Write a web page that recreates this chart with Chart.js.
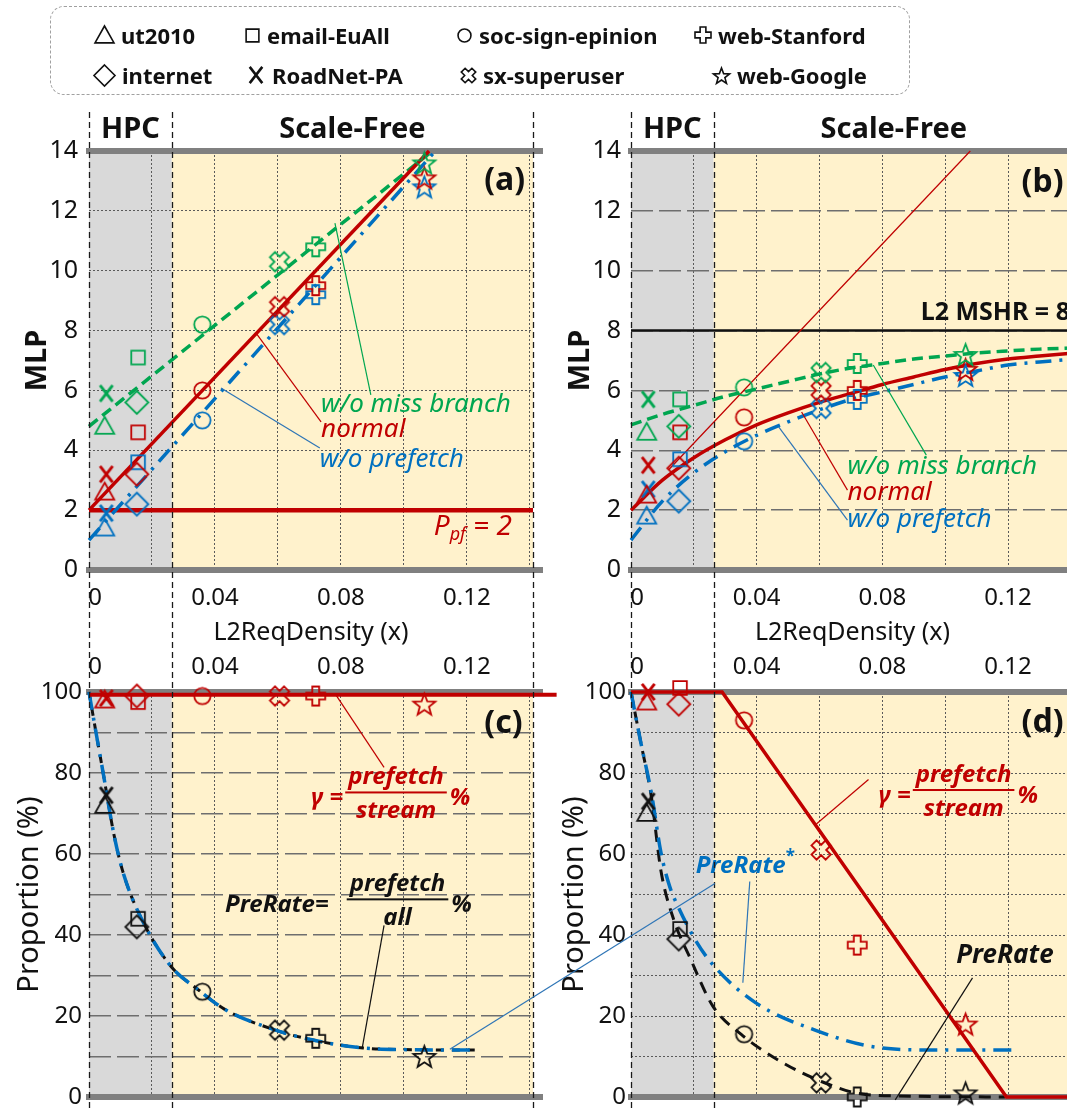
<!DOCTYPE html>
<html>
<head>
<meta charset="utf-8">
<title>MLP and prefetch proportion vs L2ReqDensity</title>
<script src="https://cdn.jsdelivr.net/npm/chart.js@4.4.1/dist/chart.umd.min.js"></script>
<style>
  html, body { margin: 0; padding: 0; background: #fff; }
  body { width: 1067px; height: 1108px; overflow: hidden; position: relative; font-family: "Noto Sans", "Liberation Sans", sans-serif; }
  canvas.panel { position: absolute; }
  #legend { position: absolute; left: 50px; top: 6px; width: 860px; height: 89px; box-sizing: border-box;
            border: 1.5px dashed #a0a0a0; border-radius: 14px; }
  .item { position: absolute; height: 30px; display: flex; align-items: center; font-weight: 700; font-size: 22px; color: #111; white-space: nowrap; }
  .item canvas { margin-right: 3px; }
  #overlay { position: absolute; left: 0; top: 0; pointer-events: none; }
</style>
</head>
<body>
<div id="legend"></div>
<canvas class="panel" id="chartA" width="545" height="553" style="left:0px;top:95px"></canvas>
<canvas class="panel" id="chartB" width="545" height="553" style="left:540px;top:95px"></canvas>
<canvas class="panel" id="chartC" width="575" height="468" style="left:0px;top:640px"></canvas>
<canvas class="panel" id="chartD" width="545" height="468" style="left:540px;top:640px"></canvas>
<canvas id="overlay" width="1067" height="1108"></canvas>
<script>
const FONT = '"Noto Sans", "Liberation Sans", sans-serif';
const GREEN = '#00a650', RED = '#c00000', BLUE = '#0070c0', BLACK = '#111111', LEAD_BLUE = '#2e75b6';
const HPC_FILL = '#d9d9d9', SF_FILL = '#fff2cc';

// benchmarks in legend order
const benchmarks = ['ut2010', 'email-EuAll', 'soc-sign-epinion', 'web-Stanford',
                    'internet', 'RoadNet-PA', 'sx-superuser', 'web-Google'];
const shapes = ['tri', 'sq', 'circ', 'plus', 'dia', 'x', 'sx', 'star'];
// L2ReqDensity of each benchmark
const density = [0.005, 0.0156, 0.036, 0.072, 0.0152, 0.0055, 0.0605, 0.1065];

const hpcEdge = 0.0263;   // HPC | Scale-Free boundary
const xMax = 0.141;

// (a) MLP, first configuration
const mlpNoBranchA   = [4.8, 7.1, 8.2, 10.8, 5.6, 5.9, 10.3, 13.6];
const mlpNormalA     = [2.6, 4.6, 6.0, 9.5, 3.2, 3.2, 8.8, 13.1];
const mlpNoPrefetchA = [1.4, 3.6, 5.0, 9.2, 2.2, 1.9, 8.2, 12.8];
// linear fits in (a)
const fitNoBranchX = [0, 0.109],   fitNoBranchY = [4.8, 14];
const fitNormalX = [0, 0.108],     fitNormalY = [2, 14];
const fitNoPrefetchX = [0, 0.11],  fitNoPrefetchY = [1, 14];
const ppfX = [0, xMax], ppfY = [2, 2];

// (b) MLP, second configuration
const mlpNoBranchB   = [4.6, 5.7, 6.1, 6.9, 4.8, 5.7, 6.6, 7.2];
const mlpNormalB     = [2.5, 4.6, 5.1, 6.0, 3.4, 3.5, 6.0, 6.7];
const mlpNoPrefetchB = [1.8, 3.7, 4.3, 5.7, 2.3, 2.7, 5.4, 6.5];
// saturating curves in (b)
const curveXB            = [0, 0.01, 0.02, 0.03, 0.04, 0.05, 0.06, 0.07, 0.08, 0.09, 0.1, 0.11, 0.12, 0.13, 0.141];
const curveNoBranchB     = [4.85, 5.2, 5.5, 5.8, 6.05, 6.3, 6.55, 6.75, 6.9, 7.05, 7.15, 7.25, 7.32, 7.38, 7.42];
const curveNormalB       = [2.0, 3.0, 3.75, 4.35, 4.85, 5.25, 5.6, 5.9, 6.2, 6.45, 6.7, 6.9, 7.05, 7.15, 7.25];
const curveNoPrefetchB   = [1.0, 2.3, 3.25, 3.95, 4.5, 4.95, 5.35, 5.7, 5.95, 6.2, 6.45, 6.65, 6.85, 6.95, 7.05];
const unboundedX = [0.012, 0.108], unboundedY = [3.35, 14];
const mshrX = [0, xMax], mshrY = [8, 8];

// (c) proportions (%), first configuration
const gammaC   = [98, 97.5, 99, 99, 99, 98.5, 99, 97];
const preRateC = [72, 44, 26, 14.5, 42, 74.5, 16.5, 10];
const gammaLineXC = [0, 0.1485], gammaLineYC = [99.3, 99.3];
const preRateCurveXC = [0, 0.002, 0.0045, 0.008, 0.011, 0.017, 0.026, 0.035, 0.043, 0.0585, 0.0715, 0.087, 0.1, 0.1225];
const preRateCurveYC = [100, 91, 80, 64.5, 55, 43.5, 32.3, 26.3, 21.7, 16.7, 14, 12.1, 11.7, 11.6];

// (d) proportions (%), second configuration
const gammaD   = [97.5, 101, 93, 37.5, 97, 100, 61, 18];
const preRateD = [70, 41.5, 15.5, 0, 39, 73, 3.5, 1];
const gammaLineXD = [0, 0.029, 0.1195, 0.141], gammaLineYD = [100, 100, 0, 0];
const preRateCurveXD = [0, 0.003, 0.0065, 0.0095, 0.0135, 0.019, 0.026, 0.035, 0.048, 0.061, 0.073, 0.089, 0.119];
const preRateCurveYD = [100, 88, 74, 56, 44, 34, 22.5, 15.5, 8.6, 3.7, 0.8, 0.2, 0];
const preRateStarXD = [0, 0.003, 0.0065, 0.0095, 0.0123, 0.015, 0.0203, 0.026, 0.0396, 0.059, 0.078, 0.0976, 0.1233];
const preRateStarYD = [100, 88, 75, 60.5, 52, 47, 39, 32.7, 23.3, 16.4, 12.3, 11.6, 11.6];

// hollow marker glyphs, drawn once per shape and colour
const markerSize = { tri: 19, sq: 16, circ: 19, plus: 19, dia: 23, x: 18, sx: 20, star: 23 };
function marker(shape, color, size, lw) {
  lw = lw || 1.8;
  const s = Math.ceil(size + 8);
  const c = document.createElement('canvas');
  c.width = s; c.height = s;
  const g = c.getContext('2d');
  const m = s / 2, r = size / 2;
  g.strokeStyle = color; g.lineWidth = lw; g.lineJoin = 'miter';
  g.beginPath();
  if (shape === 'tri') {
    g.moveTo(m, m - r); g.lineTo(m + r, m + r * 0.78); g.lineTo(m - r, m + r * 0.78); g.closePath();
  } else if (shape === 'sq') {
    g.rect(m - r * 0.85, m - r * 0.85, r * 1.7, r * 1.7);
  } else if (shape === 'circ') {
    g.arc(m, m, r * 0.86, 0, Math.PI * 2);
  } else if (shape === 'dia') {
    g.moveTo(m, m - r); g.lineTo(m + r, m); g.lineTo(m, m + r); g.lineTo(m - r, m); g.closePath();
  } else if (shape === 'x') {
    g.lineWidth = lw * 1.6;
    g.moveTo(m - r * 0.7, m - r * 0.9); g.lineTo(m + r * 0.7, m + r * 0.9);
    g.moveTo(m + r * 0.7, m - r * 0.9); g.lineTo(m - r * 0.7, m + r * 0.9);
  } else if (shape === 'plus' || shape === 'sx') {
    const a = r * 0.36;
    const pts = [[-a, -r], [a, -r], [a, -a], [r, -a], [r, a], [a, a], [a, r], [-a, r], [-a, a], [-r, a], [-r, -a], [-a, -a]];
    const rot = shape === 'sx' ? Math.PI / 4 : 0;
    pts.forEach(([px, py], i) => {
      const X = m + px * Math.cos(rot) - py * Math.sin(rot);
      const Y = m + px * Math.sin(rot) + py * Math.cos(rot);
      if (i) g.lineTo(X, Y); else g.moveTo(X, Y);
    });
    g.closePath();
  } else if (shape === 'star') {
    for (let i = 0; i < 10; i++) {
      const ang = -Math.PI / 2 + i * Math.PI / 5;
      const rr = i % 2 ? r * 0.42 : r;
      const X = m + rr * Math.cos(ang), Y = m + 1 + rr * Math.sin(ang);
      if (i) g.lineTo(X, Y); else g.moveTo(X, Y);
    }
    g.closePath();
  }
  g.stroke();
  return c;
}

function pts(xs, ys) { return xs.map((x, i) => ({ x, y: ys[i] })); }

function markerSet(ys, color) {
  return {
    data: pts(density, ys),
    pointStyle: shapes.map(s => marker(s, color, markerSize[s])),
    pointRadius: 10, showLine: false, clip: false, order: 0
  };
}

function lineSet(xs, ys, color, width, dash, order, smooth) {
  return {
    data: pts(xs, ys), showLine: true, borderColor: color, borderWidth: width,
    borderDash: dash || [], borderCapStyle: 'butt', pointRadius: 0, fill: false,
    tension: 0, cubicInterpolationMode: smooth ? 'monotone' : 'default', clip: false, order
  };
}

function densityLabel(v) {
  if (Math.abs(v) < 1e-9) return '\u20020';   // nudged right of the axis line
  const k = v / 0.04;
  return Math.abs(k - Math.round(k)) < 1e-6 ? v.toFixed(2) : '';
}

function densityAxis(position, withTitle) {
  return {
    type: 'linear', position, min: 0, max: xMax,
    ticks: { stepSize: 0.02, includeBounds: false, autoSkip: false, maxRotation: 0,
             padding: position === 'bottom' ? 14 : 10, color: '#111',
             font: { family: FONT, size: 24 }, callback: densityLabel },
    grid: { drawTicks: false, lineWidth: 1,
            color: c => (c.tick && c.tick.value > 1e-9) ? '#5a5a5a' : 'rgba(0,0,0,0)' },
    border: { display: false, dash: [2, 2] },
    title: { display: withTitle, text: 'L2ReqDensity (x)', color: '#111',
             font: { family: FONT, size: 25 }, padding: { top: 0, bottom: 0 } },
    afterFit: s => { s.height = position === 'bottom' ? 78 : 52; s.paddingLeft = 0; s.paddingRight = 0; }
  };
}

function valueAxis(o) {
  return {
    type: 'linear', position: 'left', min: 0, max: o.max,
    ticks: { stepSize: o.step, padding: o.tickPad, color: '#111',
             font: { family: FONT, size: o.tickSize },
             callback: v => (Math.round(v) % o.labelEvery === 0 ? String(Math.round(v)) : '') },
    grid: { drawTicks: false, lineWidth: o.gridWidth,
            color: c => (c.tick && c.tick.value > 0 && c.tick.value < o.max) ? o.gridColor : 'rgba(0,0,0,0)' },
    border: { display: false, dash: o.dash },
    title: { display: true, text: o.title, color: '#111', font: o.titleFont,
             padding: { top: o.titlePad, bottom: 0 } },
    afterFit: s => { s.width = o.width; s.paddingTop = 0; s.paddingBottom = 0; }
  };
}

// ---- annotation drawing helpers ----
function toPx(chart, p) { return [chart.scales.x.getPixelForValue(p[0]), chart.scales.y.getPixelForValue(p[1])]; }

function drawFrac(ctx, x, y, t) {
  const size = t.size;
  ctx.fillStyle = t.color;
  ctx.textBaseline = 'middle';
  ctx.font = `italic 700 ${size}px ${FONT}`;
  let cx = x;
  ctx.textAlign = 'left';
  ctx.fillText(t.lhs, cx, y + 6);
  cx += ctx.measureText(t.lhs).width + t.gap;
  const w = Math.max(ctx.measureText(t.num).width, ctx.measureText(t.den).width) + 6;
  ctx.fillRect(cx, y - 1, w, 2);
  ctx.textAlign = 'center';
  ctx.fillText(t.num, cx + w / 2, y - 15);
  ctx.fillText(t.den, cx + w / 2, y + 19);
  ctx.textAlign = 'left';
  ctx.fillText(t.tail, cx + w + 3, y + 6);
}

function drawText(chart, t) {
  const ctx = chart.ctx;
  const [x, y] = toPx(chart, t.at);
  ctx.save();
  ctx.fillStyle = t.color;
  ctx.textBaseline = 'middle';
  ctx.textAlign = t.align || 'left';
  if (t.kind === 'frac') {
    drawFrac(ctx, x, y, t);
  } else if (t.kind === 'sub') {
    ctx.font = `italic ${t.size}px ${FONT}`;
    ctx.fillText(t.main, x, y);
    let cx = x + ctx.measureText(t.main).width;
    ctx.font = `italic ${Math.round(t.size * 0.65)}px ${FONT}`;
    ctx.fillText(t.sub, cx, y + 8);
    cx += ctx.measureText(t.sub).width;
    ctx.font = `italic ${t.size}px ${FONT}`;
    ctx.fillText(t.rest, cx, y);
  } else if (t.kind === 'sup') {
    ctx.font = `italic 700 ${t.size}px ${FONT}`;
    ctx.fillText(t.main, x, y);
    const cx = x + ctx.measureText(t.main).width;
    ctx.font = `700 ${Math.round(t.size * 0.7)}px ${FONT}`;
    ctx.fillText(t.sup, cx, y - 9);
  } else {
    ctx.font = t.font;
    ctx.fillText(t.text, x, y);
  }
  ctx.restore();
}

const decoPlugin = {
  id: 'deco',
  beforeDraw(chart) {
    const { ctx, chartArea: a, scales: { x } } = chart;
    const xe = x.getPixelForValue(hpcEdge);
    ctx.save();
    ctx.fillStyle = HPC_FILL;
    ctx.fillRect(a.left, a.top, xe - a.left, a.bottom - a.top);
    ctx.fillStyle = SF_FILL;
    ctx.fillRect(xe, a.top, a.right - xe, a.bottom - a.top);
    ctx.restore();
  },
  beforeDatasetsDraw(chart) {
    // thick grey rules at the top and bottom of the value range
    const { ctx, chartArea: a, scales: { y } } = chart;
    ctx.save();
    ctx.fillStyle = '#808080';
    [y.min, y.max].forEach(v => {
      const py = y.getPixelForValue(v);
      ctx.fillRect(a.left - 3, py - 3, a.right - a.left + 13, 6);
    });
    ctx.restore();
  },
  afterDatasetsDraw(chart, args, o) {
    const { ctx, chartArea: a, scales: { x } } = chart;
    ctx.save();
    if (o.regions) {
      ctx.fillStyle = '#111';
      ctx.font = `700 29px ${FONT}`;
      ctx.textAlign = 'center';
      ctx.textBaseline = 'middle';
      ctx.fillText('HPC', x.getPixelForValue(hpcEdge / 2), a.top - 21);
      ctx.fillText('Scale-Free', x.getPixelForValue((hpcEdge + xMax) / 2), a.top - 21);
    }
    (o.leaders || []).forEach(l => {
      const [x1, y1] = toPx(chart, l.from), [x2, y2] = toPx(chart, l.to);
      ctx.strokeStyle = l.color; ctx.lineWidth = 1.2; ctx.setLineDash([]);
      ctx.beginPath(); ctx.moveTo(x1, y1); ctx.lineTo(x2, y2); ctx.stroke();
    });
    ctx.restore();
    (o.texts || []).forEach(t => drawText(chart, t));
    if (o.tag) drawText(chart, { text: o.tag.text, at: o.tag.at, color: '#111', font: `700 32px ${FONT}`, align: 'center' });
  }
};

function baseOptions(pad, scales, deco) {
  return {
    responsive: false, animation: false, events: [],
    layout: { padding: pad },
    plugins: { legend: { display: false }, tooltip: { enabled: false }, deco },
    scales
  };
}

const italic26 = `italic 26px ${FONT}`;

// ---- (a) ----
const chartA = new Chart(document.getElementById('chartA'), {
  type: 'scatter',
  data: { datasets: [
    markerSet(mlpNoBranchA, GREEN),
    markerSet(mlpNormalA, RED),
    markerSet(mlpNoPrefetchA, BLUE),
    lineSet(fitNormalX, fitNormalY, RED, 3.5, [], 1),
    lineSet(fitNoBranchX, fitNoBranchY, GREEN, 3.5, [11, 6], 1),
    lineSet(fitNoPrefetchX, fitNoPrefetchY, BLUE, 3.5, [16, 8, 3, 8], 1),
    lineSet(ppfX, ppfY, RED, 4.5, [], 2)
  ]},
  options: baseOptions({ left: 0, right: 12, top: 56, bottom: 0 }, {
    x: densityAxis('bottom', true),
    y: valueAxis({ max: 14, step: 2, labelEvery: 2, title: 'MLP', titleFont: { family: FONT, size: 29, weight: 'bold' },
                   titlePad: 20, tickPad: 11, tickSize: 25, dash: [2, 2], gridColor: '#5a5a5a', gridWidth: 1, width: 89 })
  }, {
    regions: true,
    tag: { text: '(a)', at: [0.132, 13.0] },
    leaders: [
      { from: [0.0781, 11.59], to: [0.0895, 5.85], color: GREEN },
      { from: [0.053, 7.92], to: [0.0737, 4.95], color: RED },
      { from: [0.0419, 6.08], to: [0.0733, 4.08], color: LEAD_BLUE }
    ],
    texts: [
      { text: 'w/o miss branch', at: [0.0737, 5.51], color: GREEN, font: italic26 },
      { text: 'normal', at: [0.0737, 4.68], color: RED, font: italic26 },
      { text: 'w/o prefetch', at: [0.0733, 3.68], color: BLUE, font: italic26 },
      { kind: 'sub', main: 'P', sub: 'pf', rest: ' = 2', at: [0.1095, 1.44], color: RED, size: 28 }
    ]
  }),
  plugins: [decoPlugin]
});

// ---- (b) ----
const chartB = new Chart(document.getElementById('chartB'), {
  type: 'scatter',
  data: { datasets: [
    markerSet(mlpNoBranchB, GREEN),
    markerSet(mlpNormalB, RED),
    markerSet(mlpNoPrefetchB, BLUE),
    lineSet(curveXB, curveNormalB, RED, 3.5, [], 1, true),
    lineSet(curveXB, curveNoBranchB, GREEN, 3.5, [11, 6], 1, true),
    lineSet(curveXB, curveNoPrefetchB, BLUE, 3.5, [16, 8, 3, 8], 1, true),
    lineSet(unboundedX, unboundedY, RED, 1.2, [], 2),
    lineSet(mshrX, mshrY, BLACK, 2.5, [], 2)
  ]},
  options: baseOptions({ left: 0, right: 10, top: 56, bottom: 0 }, {
    x: densityAxis('bottom', true),
    y: valueAxis({ max: 14, step: 2, labelEvery: 2, title: 'MLP', titleFont: { family: FONT, size: 29, weight: 'bold' },
                   titlePad: 23, tickPad: 10, tickSize: 25, dash: [22, 6], gridColor: '#6e6e6e', gridWidth: 1.5, width: 91 })
  }, {
    regions: true,
    tag: { text: '(b)', at: [0.131, 12.93] },
    leaders: [
      { from: [0.0771, 6.85], to: [0.094, 3.84], color: GREEN },
      { from: [0.0543, 5.28], to: [0.0689, 2.67], color: RED },
      { from: [0.047, 4.78], to: [0.0689, 1.67], color: LEAD_BLUE }
    ],
    texts: [
      { text: 'L2 MSHR = 8', at: [0.0922, 8.59], color: '#111', font: `700 25px ${FONT}` },
      { text: 'w/o miss branch', at: [0.0689, 3.47], color: GREEN, font: italic26 },
      { text: 'normal', at: [0.0689, 2.6], color: RED, font: italic26 },
      { text: 'w/o prefetch', at: [0.0689, 1.67], color: BLUE, font: italic26 }
    ]
  }),
  plugins: [decoPlugin]
});

// ---- (c) ----
const chartC = new Chart(document.getElementById('chartC'), {
  type: 'scatter',
  data: { datasets: [
    markerSet(gammaC, RED),
    markerSet(preRateC, BLACK),
    lineSet(gammaLineXC, gammaLineYC, RED, 4, [], 1),
    lineSet(preRateCurveXC, preRateCurveYC, BLUE, 3.5, [18, 8, 3, 8], 1, true),
    lineSet(preRateCurveXC, preRateCurveYC, BLACK, 3, [8, 8], 2, true)
  ]},
  options: baseOptions({ left: 0, right: 42, top: 0, bottom: 8 }, {
    x: densityAxis('top', false),
    y: valueAxis({ max: 100, step: 10, labelEvery: 20, title: 'Proportion (%)', titleFont: { family: FONT, size: 29 },
                   titlePad: 12, tickPad: 7, tickSize: 24, dash: [22, 6], gridColor: '#6e6e6e', gridWidth: 1.5, width: 89 })
  }, {
    tag: { text: '(c)', at: [0.1316, 92.2] },
    leaders: [
      { from: [0.0784, 99.3], to: [0.0937, 81.4], color: RED },
      { from: [0.0937, 42.4], to: [0.0868, 12.25], color: BLACK }
    ],
    texts: [
      { kind: 'frac', lhs: 'γ =', num: 'prefetch', den: 'stream', tail: '%', at: [0.0705, 75.2], color: RED, size: 24, gap: 2 },
      { kind: 'frac', lhs: 'PreRate=', num: 'prefetch', den: 'all', tail: '%', at: [0.0432, 48.8], color: BLACK, size: 24, gap: 18 }
    ]
  }),
  plugins: [decoPlugin]
});

// ---- (d) ----
const chartD = new Chart(document.getElementById('chartD'), {
  type: 'scatter',
  data: { datasets: [
    markerSet(gammaD, RED),
    markerSet(preRateD, BLACK),
    lineSet(gammaLineXD, gammaLineYD, RED, 3.5, [], 1),
    lineSet(preRateStarXD, preRateStarYD, BLUE, 3.5, [18, 8, 3, 8], 1, true),
    lineSet(preRateCurveXD, preRateCurveYD, BLACK, 3, [12, 8], 2, true)
  ]},
  options: baseOptions({ left: 0, right: 10, top: 0, bottom: 8 }, {
    x: densityAxis('top', false),
    y: valueAxis({ max: 100, step: 10, labelEvery: 20, title: 'Proportion (%)', titleFont: { family: FONT, size: 29 },
                   titlePad: 17, tickPad: 5, tickSize: 24, dash: [2, 2], gridColor: '#5a5a5a', gridWidth: 1, width: 91 })
  }, {
    tag: { text: '(d)', at: [0.131, 92.4] },
    leaders: [
      { from: [0.0756, 78.4], to: [0.059, 67.4], color: RED },
      { from: [0.0378, 53.2], to: [0.0356, 28.2], color: LEAD_BLUE },
      { from: [0.1087, 29.4], to: [0.0841, -0.7], color: BLACK }
    ],
    texts: [
      { kind: 'frac', lhs: 'γ =', num: 'prefetch', den: 'stream', tail: '%', at: [0.0788, 75.8], color: RED, size: 24, gap: 2 },
      { kind: 'sup', main: 'PreRate', sup: '*', at: [0.0206, 56.9], color: BLUE, size: 24 },
      { text: 'PreRate', at: [0.1035, 35], color: BLACK, font: `italic 700 26px ${FONT}` }
    ]
  }),
  plugins: [decoPlugin]
});

// ---- legend ----
const legendSlots = [[91, 20], [241, 20], [453, 20], [691, 20], [90, 60], [243, 60], [457, 60], [709, 60]];
const legendIconSize = { tri: 19, sq: 15, circ: 15, plus: 16, dia: 21, x: 18, sx: 15, star: 17 };
benchmarks.forEach((name, i) => {
  const el = document.createElement('div');
  el.className = 'item';
  el.style.left = legendSlots[i][0] + 'px';
  el.style.top = legendSlots[i][1] + 'px';
  const icon = marker(shapes[i], '#111', legendIconSize[shapes[i]], 1.6);
  el.appendChild(icon);
  el.appendChild(document.createTextNode(name));
  document.body.appendChild(el);
});

// ---- region boundaries and the cross-panel leader ----
const crossLeader = { from: [0.1146, 11.8], to: [0.0267, 52.7] };
function drawOverlay() {
  const g = document.getElementById('overlay').getContext('2d');
  g.strokeStyle = '#1a1a1a';
  g.lineWidth = 1.3;
  g.setLineDash([6, 4]);
  [chartA, chartB].forEach(ch => {
    const off = ch.canvas.offsetLeft;
    [0, hpcEdge, xMax].forEach(v => {
      const xp = Math.round(off + ch.scales.x.getPixelForValue(v)) + 0.5;
      g.beginPath(); g.moveTo(xp, 112); g.lineTo(xp, 1108); g.stroke();
    });
  });
  const [ax, ay] = toPx(chartC, crossLeader.from);
  const [bx, by] = toPx(chartD, crossLeader.to);
  g.setLineDash([]);
  g.strokeStyle = LEAD_BLUE;
  g.lineWidth = 1.2;
  g.beginPath();
  g.moveTo(ax + chartC.canvas.offsetLeft, ay + chartC.canvas.offsetTop);
  g.lineTo(bx + chartD.canvas.offsetLeft, by + chartD.canvas.offsetTop);
  g.stroke();
}
drawOverlay();
</script>
</body>
</html>
